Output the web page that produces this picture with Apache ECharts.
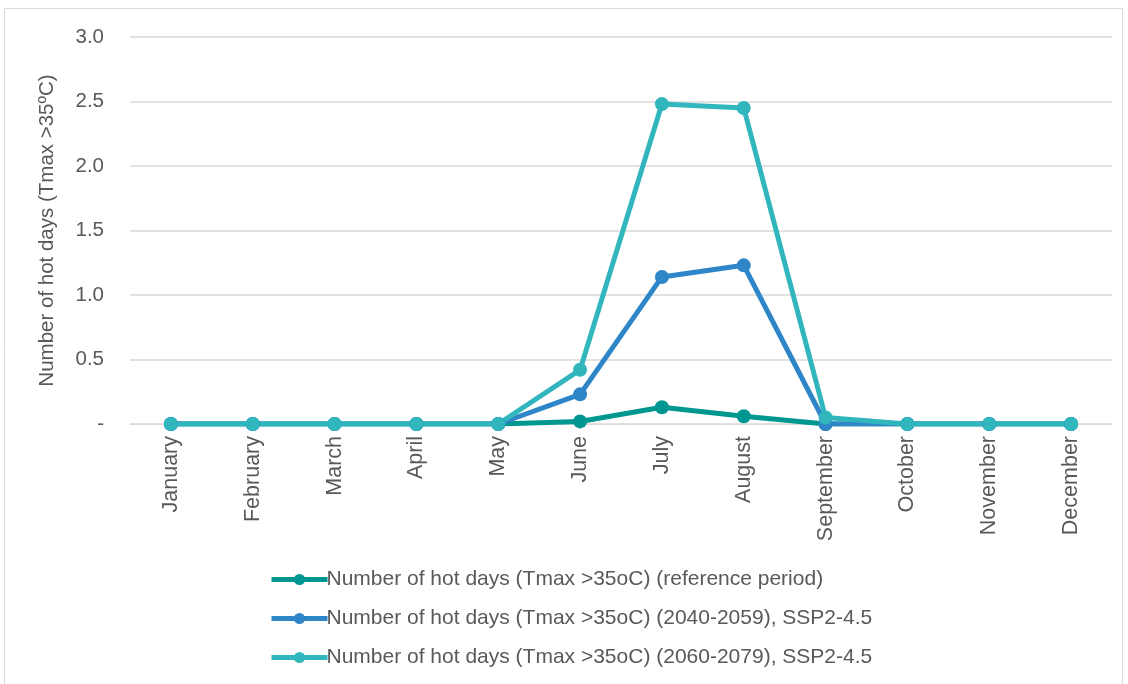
<!DOCTYPE html>
<html>
<head>
<meta charset="utf-8">
<script src="https://cdn.jsdelivr.net/npm/echarts@6/dist/echarts.min.js"></script>
<style>
html,body{margin:0;padding:0;background:#fff;}
#chart{width:1128px;height:684px;}
</style>
</head>
<body>
<div id="chart"></div>
<script>
const months = ['January','February','March','April','May','June','July','August','September','October','November','December'];
const refPeriod = [0,0,0,0,0,0.02,0.13,0.06,0,0,0,0];
const ssp2040 = [0,0,0,0,0,0.23,1.14,1.23,0,0,0,0];
const ssp2060 = [0,0,0,0,0,0.42,2.48,2.45,0.05,0,0,0];
const seriesNames = [
  'Number of hot days (Tmax >35oC) (reference period)',
  'Number of hot days (Tmax >35oC) (2040-2059), SSP2-4.5',
  'Number of hot days (Tmax >35oC) (2060-2079), SSP2-4.5'
];
const colors = ['#009790','#2E86C8','#31B6BD'];
const yTitle = 'Number of hot days (Tmax >35ºC)';

const font = 'Liberation Sans, Arial, sans-serif';
const textColor = '#595959';

function mk(name, data, color){
  return {
    name: name, type: 'line', data: data,
    symbol: 'circle', symbolSize: 14,
    lineStyle: {width: 5, color: color},
    itemStyle: {color: color},
    emphasis: {disabled: true}
  };
}

const chart = echarts.init(document.getElementById('chart'), null, {renderer:'canvas'});
chart.setOption({
  animation: false,
  backgroundColor: '#fff',
  textStyle: {fontFamily: font},
  graphic: [{
    type: 'rect', shape: {x: 4.5, y: 8.5, width: 1118, height: 700},
    style: {fill: 'none', stroke: '#d9d9d9', lineWidth: 1}, silent: true
  }],
  grid: {left: 130, right: 16, top: 37, bottom: 260, containLabel: false},
  legend: {
    orient: 'vertical', left: 264, top: 564,
    itemWidth: 56, itemHeight: 14, itemGap: 18,
    lineStyle: {width: 5},
    textStyle: {fontSize: 21, color: textColor, fontFamily: font, padding: [0,0,0,-6]},
    data: seriesNames
  },
  xAxis: {
    type: 'category', data: months, boundaryGap: true,
    axisLine: {show: true, lineStyle: {color: '#d9d9d9'}},
    axisTick: {show: false},
    axisLabel: {rotate: 90, margin: 12, fontSize: 21.5, color: textColor, fontFamily: font, interval: 0}
  },
  yAxis: {
    type: 'value', min: 0, max: 3, interval: 0.5,
    name: yTitle, nameLocation: 'middle', nameGap: 72,
    nameTextStyle: {fontSize: 20.5, color: textColor, fontFamily: font},
    axisLine: {show: false}, axisTick: {show: false},
    splitLine: {lineStyle: {color: '#d9d9d9', width: 1.5}},
    axisLabel: {
      margin: 26, fontSize: 20.5, color: textColor, fontFamily: font,
      formatter: v => v === 0 ? '-' : v.toFixed(1)
    }
  },
  series: [
    mk(seriesNames[0], refPeriod, colors[0]),
    mk(seriesNames[1], ssp2040, colors[1]),
    mk(seriesNames[2], ssp2060, colors[2])
  ]
});
</script>
</body>
</html>
